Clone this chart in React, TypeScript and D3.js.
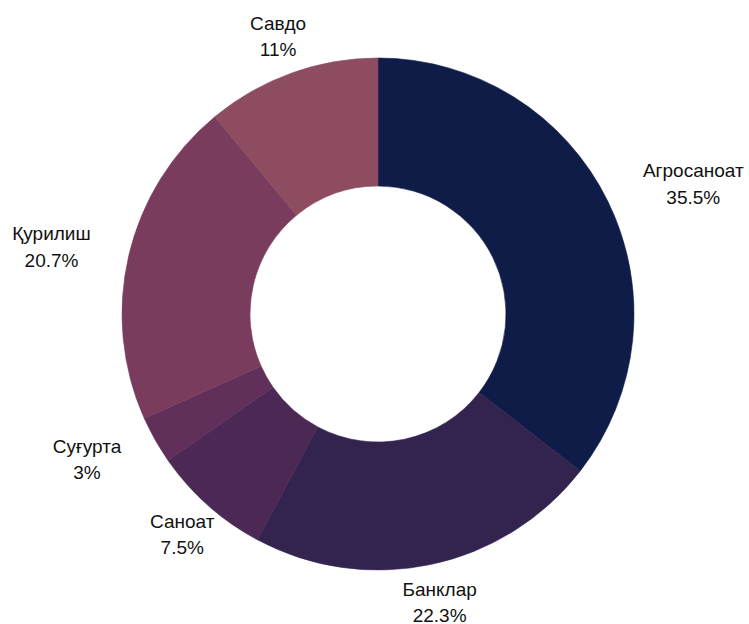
import React from "react";
import * as d3 from "d3";

const categories = ["Агросаноат", "Банклар", "Саноат", "Суғурта", "Қурилиш", "Савдо"];
const values = [35.5, 22.3, 7.5, 3, 20.7, 11];
const labels = ["35.5%", "22.3%", "7.5%", "3%", "20.7%", "11%"];
const colors = ["#0f1c48", "#33234f", "#4c2855", "#602f5a", "#7a3c5d", "#8e4c61"];

const W = 749;
const H = 624;
const CX = 370;
const CY = 306;
const R_OUT = 256;
const R_IN = 128;
const R_LABEL = 295;
const FONT = 19;
const LINE = 26.5;

export default function App() {
  const pie = d3.pie<number>().sort(null).value((d) => d)(values);
  const arc = d3.arc<d3.PieArcDatum<number>>().innerRadius(R_IN).outerRadius(R_OUT);

  return (
    <svg width={W} height={H} style={{ display: "block", position: "absolute", left: 0, top: 0 }}>
      <g transform={`translate(${CX + 8},${CY + 8})`}>
        {pie.map((p, i) => (
          <path key={i} d={arc(p) || ""} fill={colors[i]} stroke={colors[i]} strokeWidth={0.6} />
        ))}
        {pie.map((p, i) => {
          const a = (p.startAngle + p.endAngle) / 2;
          const vx = Math.sin(a);
          const vy = -Math.cos(a);
          const x = vx * R_LABEL;
          const y = vy * R_LABEL;
          let shift = 0;
          if (Math.abs(vx) > 0.72) shift = 1;
          return (
            <LabelBlock key={i} x={x} y={y} side={shift ? Math.sign(vx) : 0} t1={categories[i]} t2={labels[i]} />
          );
        })}
      </g>
    </svg>
  );
}

function textWidth(s: string): number {
  if (typeof document === "undefined") return s.length * FONT * 0.55;
  const c = (textWidth as any).c || ((textWidth as any).c = document.createElement("canvas"));
  const ctx = c.getContext("2d");
  ctx.font = `${FONT}px "Liberation Sans", Arial, sans-serif`;
  return ctx.measureText(s).width;
}

function LabelBlock({ x, y, side, t1, t2 }: { x: number; y: number; side: number; t1: string; t2: string }) {
  const w = Math.max(textWidth(t1), textWidth(t2));
  const cx = x + side * (w / 2);
  return (
    <text fontFamily='"Liberation Sans", Arial, sans-serif' fontSize={FONT} fill="#111" textAnchor="middle">
      <tspan x={cx} y={y - LINE / 2} dominantBaseline="central">{t1}</tspan>
      <tspan x={cx} y={y + LINE / 2} dominantBaseline="central">{t2}</tspan>
    </text>
  );
}
